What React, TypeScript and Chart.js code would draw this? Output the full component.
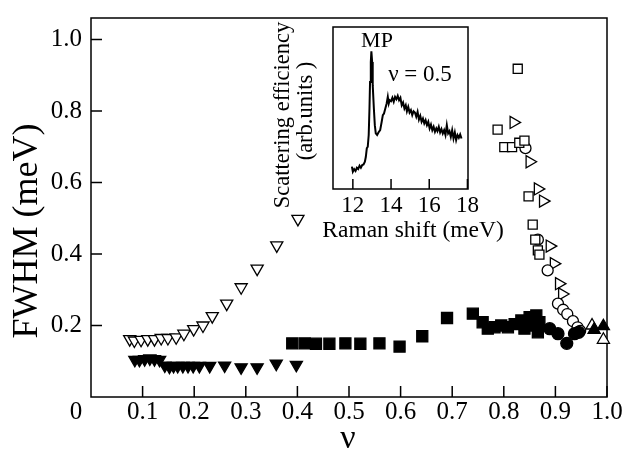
import React, { useEffect, useRef } from "react";
import { Chart, registerables } from "chart.js";

Chart.register(...registerables);

const FONT = "'Liberation Serif', 'Times New Roman', serif";

// ---- main axes ----
const xTickValues = [0.1, 0.2, 0.3, 0.4, 0.5, 0.6, 0.7, 0.8, 0.9, 1.0];
const xTickLabels = ["0.1", "0.2", "0.3", "0.4", "0.5", "0.6", "0.7", "0.8", "0.9", "1.0"];
const xOriginLabel = "0";
const yTickValues = [0.2, 0.4, 0.6, 0.8, 1.0];
const yTickLabels = ["0.2", "0.4", "0.6", "0.8", "1.0"];
const xTitle = "ν";
const yTitle = "FWHM (meV)";

// ---- main series ----
const openDownNu = [0.075, 0.084, 0.097, 0.110, 0.123, 0.136, 0.149, 0.165, 0.180, 0.199, 0.217, 0.235, 0.263, 0.291, 0.322, 0.360, 0.401];
const openDownFwhm = [0.162, 0.158, 0.160, 0.162, 0.162, 0.165, 0.165, 0.167, 0.177, 0.190, 0.200, 0.226, 0.261, 0.307, 0.359, 0.424, 0.498];

const filledDownNu = [0.085, 0.094, 0.104, 0.114, 0.123, 0.133, 0.143, 0.152, 0.160, 0.168, 0.178, 0.188, 0.198, 0.210, 0.230, 0.259, 0.291, 0.322, 0.359, 0.398];
const filledDownFwhm = [0.104, 0.104, 0.106, 0.108, 0.106, 0.104, 0.088, 0.085, 0.087, 0.087, 0.087, 0.087, 0.087, 0.087, 0.087, 0.088, 0.083, 0.083, 0.093, 0.090];

const filledSquareNu = [0.390, 0.414, 0.436, 0.462, 0.493, 0.522, 0.559, 0.598, 0.642, 0.690, 0.740, 0.759, 0.769, 0.782, 0.795, 0.808, 0.821, 0.834, 0.840, 0.850, 0.853, 0.863, 0.866, 0.869];
const filledSquareFwhm = [0.150, 0.150, 0.149, 0.149, 0.150, 0.149, 0.150, 0.141, 0.170, 0.221, 0.233, 0.209, 0.191, 0.195, 0.200, 0.195, 0.204, 0.214, 0.191, 0.223, 0.200, 0.228, 0.181, 0.209];

const filledCircleNu = [0.889, 0.905, 0.922, 0.937, 0.945];
const filledCircleFwhm = [0.191, 0.177, 0.150, 0.177, 0.181];

const openSquareNu = [0.788, 0.801, 0.816, 0.830, 0.840, 0.827, 0.848, 0.856, 0.861, 0.866, 0.869];
const openSquareFwhm = [0.748, 0.699, 0.699, 0.711, 0.717, 0.918, 0.561, 0.482, 0.440, 0.410, 0.398];

const openRightNu = [0.819, 0.850, 0.866, 0.876, 0.889, 0.897, 0.907, 0.913];
const openRightFwhm = [0.768, 0.658, 0.582, 0.548, 0.422, 0.373, 0.317, 0.288];

const openCircleNu = [0.842, 0.866, 0.885, 0.905, 0.915, 0.923, 0.934, 0.943, 0.948];
const openCircleFwhm = [0.696, 0.440, 0.354, 0.261, 0.244, 0.232, 0.212, 0.195, 0.185];

const openUpNu = [0.971, 0.993];
const openUpFwhm = [0.200, 0.160];

const filledUpNu = [0.975, 0.993];
const filledUpFwhm = [0.188, 0.198];

// ---- inset ----
const insetTickValues = [12, 14, 16, 18];
const insetTickLabels = ["12", "14", "16", "18"];
const insetXTitle = "Raman shift (meV)";
const insetYTitle1 = "Scattering efficiency";
const insetYTitle2 = "(arb.units )";
const insetPeakLabel = "MP";
const insetFillingLabel = "ν = 0.5";

const ramanShift = [
  11.95, 12.0, 12.07, 12.14, 12.21, 12.28, 12.35, 12.42, 12.49, 12.56,
  12.63, 12.68, 12.73, 12.78, 12.83, 12.87, 12.90, 12.94, 12.97, 13.01,
  13.04, 13.10, 13.15, 13.20, 13.27, 13.34, 13.43, 13.51, 13.57, 13.63,
  13.70, 13.77, 13.83, 13.88, 13.93,
  14.00, 14.07, 14.14, 14.21, 14.28, 14.35, 14.42, 14.49, 14.56, 14.63,
  14.70, 14.77, 14.83, 14.90, 14.97, 15.04, 15.11, 15.18, 15.25, 15.32,
  15.39, 15.46, 15.53, 15.60, 15.67, 15.74, 15.81, 15.88, 15.95, 16.02,
  16.09, 16.16, 16.23, 16.30, 16.37, 16.43, 16.50, 16.57, 16.64, 16.71,
  16.78, 16.85, 16.92, 16.99, 17.06, 17.13, 17.20, 17.27, 17.34, 17.41,
  17.48, 17.55, 17.62, 17.69,
];
const intensity = [
  13.8, 10.7, 12.3, 11.1, 13.1, 12.3, 14.4, 13.1, 14.8, 15.2,
  16.8, 19.9, 25.1, 26.1, 33.3, 49.7, 66.1, 78.4, 85.0, 78.4,
  64.1, 49.7, 39.4, 34.3, 33.3, 34.9, 36.3, 41.5, 45.6, 46.6,
  49.7, 52.8, 56.9, 52.8, 54.8,
  54.2, 56.3, 53.8, 56.9, 55.4, 57.5, 54.8, 56.3, 51.7, 53.4,
  49.7, 51.7, 48.0, 50.7, 47.2, 48.7, 45.6, 48.0, 47.2, 44.6,
  47.6, 42.9, 45.2, 41.5, 43.5, 40.5, 42.5, 39.4, 41.5, 37.4,
  39.8, 36.3, 38.4, 35.3, 37.4, 35.7, 38.4, 34.9, 37.0, 34.3,
  36.3, 33.3, 39.4, 34.3, 35.7, 32.2, 36.3, 31.2, 34.9, 30.2,
  33.3, 31.6, 33.7, 31.2,
];

function pts(xs: number[], ys: number[]) {
  return xs.map((x, i) => ({ x, y: ys[i] }));
}

function markerSet(xs: number[], ys: number[], style: string, rotation: number, radius: number, filled: boolean) {
  return {
    type: "scatter" as const,
    data: pts(xs, ys),
    pointStyle: style,
    pointRotation: rotation,
    pointRadius: radius,
    pointBackgroundColor: filled ? "#000" : "#fff",
    pointBorderColor: "#000",
    pointBorderWidth: 1.3,
    showLine: false,
    clip: false as const,
  };
}

function labelFor(values: number[], labels: string[], v: number) {
  const i = values.findIndex((t) => Math.abs(t - v) < 1e-6);
  return i >= 0 ? labels[i] : "";
}

export default function App() {
  const mainRef = useRef<HTMLCanvasElement>(null);
  const insetRef = useRef<HTMLCanvasElement>(null);

  useEffect(() => {
    if (!mainRef.current || !insetRef.current) return;

    const mainDecor = {
      id: "mainDecor",
      beforeDatasetsDraw(chart: any) {
        const { ctx, chartArea: a, scales } = chart;
        const x = scales.x, y = scales.y;
        ctx.save();
        ctx.strokeStyle = "#000";
        ctx.lineWidth = 1.5;
        ctx.strokeRect(a.left, a.top, a.right - a.left, a.bottom - a.top);
        ctx.beginPath();
        xTickValues.forEach((v) => {
          const px = x.getPixelForValue(v);
          ctx.moveTo(px, a.bottom);
          ctx.lineTo(px, a.bottom - 11);
        });
        yTickValues.forEach((v) => {
          const py = y.getPixelForValue(v);
          ctx.moveTo(a.left, py);
          ctx.lineTo(a.left + 11, py);
        });
        ctx.stroke();
        ctx.restore();
      },
      afterDraw(chart: any) {
        const { ctx, chartArea: a } = chart;
        ctx.save();
        ctx.fillStyle = "#000";
        ctx.textAlign = "center";
        ctx.textBaseline = "middle";
        ctx.font = `25px ${FONT}`;
        ctx.fillText(xOriginLabel, a.left - 15, a.bottom + 15);
        ctx.font = `34px ${FONT}`;
        ctx.fillText(xTitle, (a.left + a.right) / 2 - 1, a.bottom + 42);
        ctx.translate(a.left - 63, 231);
        ctx.rotate(-Math.PI / 2);
        ctx.font = `36px ${FONT}`;
        ctx.fillText(yTitle, 0, 0);
        ctx.restore();
      },
    };

    const main = new Chart(mainRef.current, {
      type: "scatter",
      data: {
        datasets: [
          markerSet(filledSquareNu, filledSquareFwhm, "rect", 0, 7.8, true),
          markerSet(filledCircleNu, filledCircleFwhm, "circle", 0, 6, true),
          markerSet(filledDownNu, filledDownFwhm, "triangle", 180, 7, true),
          markerSet(openDownNu, openDownFwhm, "triangle", 180, 7, false),
          markerSet(openSquareNu, openSquareFwhm, "rect", 0, 6.4, false),
          markerSet(openCircleNu, openCircleFwhm, "circle", 0, 5.5, false),
          markerSet(openRightNu, openRightFwhm, "triangle", 90, 7, false),
          markerSet(filledUpNu, filledUpFwhm, "triangle", 0, 7, true),
          markerSet(openUpNu, openUpFwhm, "triangle", 0, 7, false),
        ] as any,
      },
      options: {
        animation: false,
        responsive: false,
        events: [],
        layout: { padding: { left: 0, right: 15, top: 18, bottom: 0 } },
        plugins: { legend: { display: false }, tooltip: { enabled: false } },
        scales: {
          x: {
            type: "linear",
            min: 0,
            max: 1,
            grid: { display: false, drawTicks: false },
            border: { display: false },
            ticks: {
              color: "#000",
              font: { family: FONT, size: 25, lineHeight: 1 },
              padding: 3,
              maxRotation: 0,
              autoSkip: false,
              callback: (v: any) => labelFor(xTickValues, xTickLabels, Number(v)),
            },
            afterBuildTicks: (s: any) => {
              s.ticks = xTickValues.map((v) => ({ value: v }));
            },
            afterFit: (s: any) => {
              s.height = 59;
              s.paddingLeft = 0;
              s.paddingRight = 0;
            },
          },
          y: {
            type: "linear",
            min: 0,
            max: 1.06,
            grid: { display: false, drawTicks: false },
            border: { display: false },
            ticks: {
              color: "#000",
              font: { family: FONT, size: 25, lineHeight: 1 },
              padding: 9,
              autoSkip: false,
              callback: (v: any) => labelFor(yTickValues, yTickLabels, Number(v)),
            },
            afterBuildTicks: (s: any) => {
              s.ticks = yTickValues.map((v) => ({ value: v }));
            },
            afterFit: (s: any) => {
              s.width = 91;
              s.paddingTop = 0;
              s.paddingBottom = 0;
            },
          },
        },
      } as any,
      plugins: [mainDecor],
    });

    const insetDecor = {
      id: "insetDecor",
      beforeDatasetsDraw(chart: any) {
        const { ctx, chartArea: a, scales } = chart;
        const x = scales.x;
        ctx.save();
        ctx.strokeStyle = "#000";
        ctx.lineWidth = 1.5;
        ctx.strokeRect(a.left, a.top, a.right - a.left, a.bottom - a.top);
        ctx.beginPath();
        insetTickValues.forEach((v) => {
          const px = x.getPixelForValue(v);
          ctx.moveTo(px, a.bottom);
          ctx.lineTo(px, a.bottom - 10);
        });
        ctx.stroke();
        ctx.restore();
      },
      afterDraw(chart: any) {
        const { ctx, chartArea: a } = chart;
        ctx.save();
        ctx.fillStyle = "#000";
        ctx.textAlign = "center";
        ctx.textBaseline = "middle";
        ctx.font = `22px ${FONT}`;
        ctx.fillText(insetPeakLabel, a.left + 44, a.top + 14);
        ctx.font = `23px ${FONT}`;
        ctx.fillText(insetFillingLabel, a.left + 87, a.top + 48);
        ctx.font = `23.5px ${FONT}`;
        ctx.fillText(insetXTitle, a.left + 80, a.bottom + 42);
        ctx.font = `22.5px ${FONT}`;
        ctx.save();
        ctx.translate(a.left - 50, a.top + 88);
        ctx.rotate(-Math.PI / 2);
        ctx.fillText(insetYTitle1, 0, 0);
        ctx.restore();
        ctx.save();
        ctx.translate(a.left - 27, a.top + 84);
        ctx.rotate(-Math.PI / 2);
        ctx.fillText(insetYTitle2, 0, 0);
        ctx.restore();
        ctx.restore();
      },
    };

    const inset = new Chart(insetRef.current, {
      type: "line",
      data: {
        datasets: [
          {
            data: pts(ramanShift, intensity),
            borderColor: "#000",
            borderWidth: 2,
            pointRadius: 0,
            tension: 0,
            fill: false,
          },
        ],
      },
      options: {
        animation: false,
        responsive: false,
        events: [],
        layout: { padding: { left: 71, right: 54, top: 12, bottom: 0 } },
        plugins: { legend: { display: false }, tooltip: { enabled: false } },
        scales: {
          x: {
            type: "linear",
            min: 10.96,
            max: 18.03,
            grid: { display: false, drawTicks: false },
            border: { display: false },
            ticks: {
              color: "#000",
              font: { family: FONT, size: 23, lineHeight: 1 },
              padding: 5,
              maxRotation: 0,
              autoSkip: false,
              callback: (v: any) => labelFor(insetTickValues, insetTickLabels, Number(v)),
            },
            afterBuildTicks: (s: any) => {
              s.ticks = insetTickValues.map((v) => ({ value: v }));
            },
            afterFit: (s: any) => {
              s.height = 66;
              s.paddingLeft = 0;
              s.paddingRight = 0;
            },
          },
          y: {
            type: "linear",
            min: 0,
            max: 100,
            display: false,
          },
        },
      } as any,
      plugins: [insetDecor],
    });

    return () => {
      main.destroy();
      inset.destroy();
    };
  }, []);

  return (
    <div style={{ position: "absolute", left: 0, top: 0, width: 622, height: 456, background: "#fff" }}>
      <canvas ref={mainRef} width={622} height={456} style={{ position: "absolute", left: 0, top: 0 }} />
      <canvas ref={insetRef} width={260} height={240} style={{ position: "absolute", left: 262, top: 15 }} />
    </div>
  );
}
